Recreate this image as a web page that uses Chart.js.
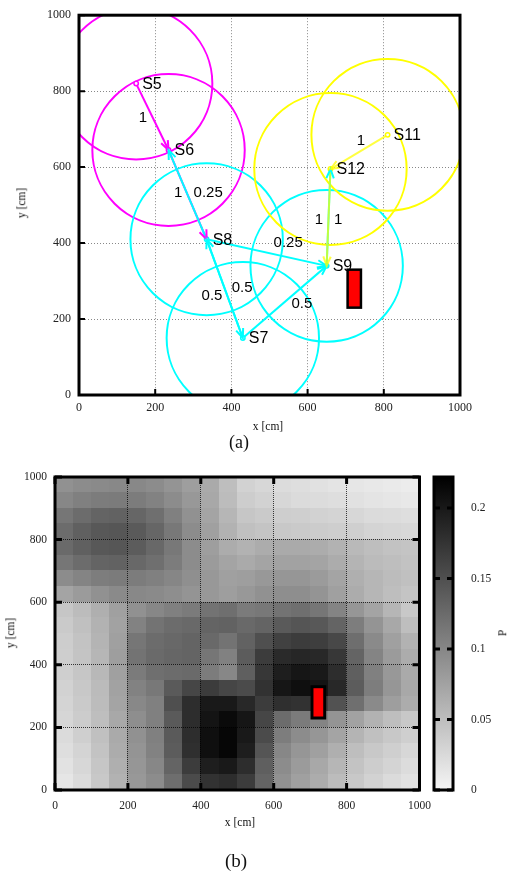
<!DOCTYPE html>
<html><head><meta charset="utf-8">
<script src="https://cdn.jsdelivr.net/npm/chart.js@4.4.1/dist/chart.umd.min.js"></script>
<style>
html,body{margin:0;padding:0;background:#fff}
#wrap{position:relative;width:508px;height:874px;overflow:hidden;background:#fff}
canvas{position:absolute}
.lbl{position:absolute;font-family:"Liberation Serif","Times New Roman",serif;color:#111;white-space:nowrap;transform:translate(-50%,-50%);line-height:1}
.rot{transform:translate(-50%,-50%) rotate(-90deg)}
</style></head><body><div id="wrap">
<canvas id="chartA" width="508" height="430" style="left:0;top:0"></canvas>
<canvas id="chartB" width="440" height="380" style="left:0;top:460px"></canvas>
<canvas id="chartC" width="83" height="380" style="left:425px;top:460px"></canvas>
<div class="lbl" style="left:268px;top:427px;font-size:11.5px">x [cm]</div>
<div class="lbl rot" style="left:22px;top:203px;font-size:11.5px">y [cm]</div>
<div class="lbl" style="left:239px;top:442px;font-size:18px">(a)</div>
<div class="lbl" style="left:240px;top:823px;font-size:11.5px">x [cm]</div>
<div class="lbl rot" style="left:11px;top:633px;font-size:11.5px">y [cm]</div>
<div class="lbl rot" style="left:503px;top:633px;font-size:11.5px">P</div>
<div class="lbl" style="left:236px;top:860px;font-size:19px">(b)</div>
</div>
<script>
// ---------------- data ----------------
const axisTicks = [0, 200, 400, 600, 800, 1000];
const sensorNames = ['S5', 'S6', 'S7', 'S8', 'S9', 'S11', 'S12'];
const sensorX = [150, 235, 430, 335, 650, 810, 660];
const sensorY = [820, 645, 150, 410, 340, 685, 595];
const sensorCluster = [0, 0, 1, 1, 1, 2, 2];
const sensingRange = 200;
const linkFrom = ['S5', 'S6', 'S8', 'S8', 'S7', 'S8', 'S7', 'S9', 'S12', 'S11'];
const linkTo   = ['S6', 'S8', 'S6', 'S7', 'S8', 'S9', 'S9', 'S12', 'S9', 'S12'];
const linkLabelText = ['1', '1', '0.25', '0.5', '0.5', '0.25', '0.5', '1', '1', '1'];
const linkLabelX = [168, 260, 339, 349, 428, 549, 585, 630, 680, 740];
const linkLabelY = [730, 532, 532, 260, 281, 400, 239, 462, 462, 670];
const obstacleX = [705, 740];
const obstacleY = [230, 330];
const gridX = [25, 75, 125, 175, 225, 275, 325, 375, 425, 475, 525, 575, 625, 675, 725, 775, 825, 875, 925, 975];
const gridY = [975, 925, 875, 825, 775, 725, 675, 625, 575, 525, 475, 425, 375, 325, 275, 225, 175, 125, 75, 25];
const pRows = [
  [0.091,0.095,0.097,0.099,0.099,0.095,0.088,0.079,0.068,0.050,0.032,0.027,0.023,0.021,0.018,0.015,0.014,0.012,0.010,0.008],
  [0.100,0.106,0.110,0.111,0.110,0.104,0.095,0.084,0.070,0.052,0.036,0.032,0.027,0.024,0.023,0.021,0.018,0.015,0.014,0.012],
  [0.115,0.124,0.131,0.133,0.130,0.121,0.106,0.091,0.073,0.057,0.043,0.039,0.035,0.034,0.032,0.030,0.027,0.024,0.023,0.021],
  [0.124,0.135,0.142,0.144,0.140,0.130,0.113,0.095,0.077,0.061,0.048,0.044,0.041,0.039,0.037,0.035,0.034,0.030,0.028,0.026],
  [0.126,0.135,0.142,0.144,0.139,0.128,0.113,0.095,0.079,0.066,0.061,0.066,0.068,0.068,0.066,0.061,0.054,0.050,0.046,0.044],
  [0.115,0.124,0.131,0.133,0.128,0.121,0.110,0.095,0.082,0.073,0.068,0.073,0.075,0.075,0.073,0.066,0.059,0.053,0.050,0.046],
  [0.095,0.102,0.109,0.111,0.110,0.106,0.101,0.092,0.084,0.077,0.079,0.084,0.086,0.086,0.082,0.073,0.063,0.057,0.052,0.048],
  [0.073,0.082,0.091,0.097,0.099,0.097,0.093,0.088,0.084,0.079,0.084,0.091,0.093,0.093,0.088,0.077,0.066,0.057,0.050,0.044],
  [0.043,0.052,0.063,0.077,0.091,0.100,0.106,0.111,0.118,0.121,0.111,0.113,0.118,0.121,0.115,0.102,0.086,0.073,0.057,0.041],
  [0.039,0.048,0.061,0.075,0.104,0.118,0.124,0.127,0.131,0.133,0.127,0.131,0.140,0.145,0.142,0.131,0.109,0.088,0.070,0.050],
  [0.036,0.045,0.059,0.077,0.115,0.124,0.128,0.131,0.127,0.118,0.133,0.150,0.163,0.168,0.166,0.157,0.122,0.097,0.077,0.061],
  [0.035,0.044,0.057,0.079,0.118,0.126,0.130,0.131,0.115,0.105,0.139,0.168,0.184,0.188,0.186,0.172,0.131,0.102,0.082,0.066],
  [0.034,0.043,0.055,0.077,0.111,0.121,0.124,0.126,0.110,0.100,0.136,0.172,0.195,0.202,0.199,0.181,0.136,0.106,0.084,0.068],
  [0.032,0.041,0.053,0.075,0.104,0.113,0.140,0.159,0.168,0.159,0.154,0.177,0.202,0.208,0.204,0.186,0.139,0.109,0.086,0.070],
  [0.030,0.039,0.052,0.073,0.099,0.106,0.150,0.181,0.199,0.199,0.186,0.168,0.179,0.177,0.166,0.148,0.121,0.097,0.079,0.066],
  [0.028,0.037,0.050,0.070,0.093,0.106,0.140,0.181,0.204,0.213,0.202,0.159,0.124,0.111,0.102,0.088,0.075,0.061,0.050,0.041],
  [0.024,0.034,0.048,0.068,0.091,0.106,0.140,0.181,0.208,0.217,0.199,0.154,0.109,0.095,0.086,0.073,0.059,0.048,0.041,0.034],
  [0.021,0.030,0.045,0.066,0.088,0.104,0.139,0.179,0.208,0.217,0.195,0.145,0.100,0.086,0.077,0.063,0.050,0.041,0.034,0.027],
  [0.017,0.027,0.043,0.063,0.086,0.100,0.131,0.168,0.195,0.199,0.181,0.136,0.095,0.082,0.070,0.057,0.045,0.036,0.030,0.023],
  [0.014,0.024,0.041,0.061,0.084,0.095,0.122,0.154,0.177,0.181,0.168,0.131,0.091,0.077,0.066,0.052,0.041,0.032,0.024,0.018]
];
const pMax = 0.222;
const pTicks = [0, 0.05, 0.1, 0.15, 0.2];

// ---------------- styles ----------------
const clusterColor = ['#ff00ff', '#00ffff', '#ffff00'];
const clusterLineColor = ['#ff00ff', '#00ffff', 'rgba(255,255,0,0.75)'];
const serif = "'Liberation Serif','Times New Roman',serif";
const sans = "'Liberation Sans',Arial,sans-serif";
const tickColor = '#222';

function grayFor(p) {
  const L = Math.max(0, Math.round(245 * (1 - Math.min(p, pMax) / pMax)));
  return 'rgb(' + L + ',' + L + ',' + L + ')';
}
function setTicks(values) { return s => { s.ticks = values.map(v => ({ value: v })); }; }
function drawFrame(chart, w) {
  const a = chart.chartArea, ctx = chart.ctx;
  ctx.save(); ctx.strokeStyle = '#000'; ctx.lineWidth = w;
  ctx.strokeRect(a.left, a.top, a.width, a.height); ctx.restore();
}
function innerTicks(chart, id, sides, len, w) {
  const s = chart.scales[id], a = chart.chartArea, ctx = chart.ctx;
  ctx.save(); ctx.strokeStyle = '#000'; ctx.lineWidth = w; ctx.beginPath();
  s.ticks.forEach(t => {
    const p = s.getPixelForValue(t.value);
    sides.forEach(side => {
      if (side === 'left') { ctx.moveTo(a.left, p); ctx.lineTo(a.left + len, p); }
      if (side === 'right') { ctx.moveTo(a.right, p); ctx.lineTo(a.right - len, p); }
      if (side === 'bottom') { ctx.moveTo(p, a.bottom); ctx.lineTo(p, a.bottom - len); }
      if (side === 'top') { ctx.moveTo(p, a.top); ctx.lineTo(p, a.top + len); }
    });
  });
  ctx.stroke(); ctx.restore();
}
function drawObstacle(chart, w) {
  const xs = chart.scales.x, ys = chart.scales.y, ctx = chart.ctx;
  const x0 = xs.getPixelForValue(obstacleX[0]), x1 = xs.getPixelForValue(obstacleX[1]);
  const y0 = ys.getPixelForValue(obstacleY[1]), y1 = ys.getPixelForValue(obstacleY[0]);
  ctx.save(); ctx.fillStyle = '#ff0000'; ctx.strokeStyle = '#000'; ctx.lineWidth = w;
  ctx.fillRect(x0, y0, x1 - x0, y1 - y0); ctx.strokeRect(x0, y0, x1 - x0, y1 - y0); ctx.restore();
}
function xyScales(padX, padY, wY, hX, gridColor, dash, fs) {
  const common = {
    type: 'linear', min: 0, max: 1000,
    afterBuildTicks: setTicks(axisTicks),
    grid: { color: gridColor, lineWidth: 1, drawTicks: false },
    border: { display: false, dash: dash }
  };
  return {
    x: Object.assign({}, common, {
      afterFit: s => { s.height = hX; },
      ticks: { padding: padX, color: tickColor, font: { family: serif, size: fs }, maxRotation: 0, autoSkip: false, callback: v => String(v) }
    }),
    y: Object.assign({}, common, {
      afterFit: s => { s.width = wY; },
      ticks: { padding: padY, color: tickColor, font: { family: serif, size: fs }, autoSkip: false, callback: v => String(v) }
    })
  };
}

// ---------------- chart (a) ----------------
const idx = n => sensorNames.indexOf(n);
const linkDatasets = linkFrom.map((f, k) => {
  const a = idx(f), b = idx(linkTo[k]);
  return {
    data: [{ x: sensorX[a], y: sensorY[a] }, { x: sensorX[b], y: sensorY[b] }],
    showLine: true, borderColor: clusterLineColor[sensorCluster[a]], borderWidth: 2,
    pointRadius: 0, order: -k
  };
});
const sensorDataset = {
  data: sensorX.map((x, i) => ({ x: x, y: sensorY[i] })),
  showLine: false, pointRadius: 2.2, pointBorderWidth: 1.5, pointBackgroundColor: '#ffffff',
  pointBorderColor: sensorCluster.map(c => clusterColor[c]), order: -100
};
const netPlugin = {
  id: 'net',
  beforeDatasetsDraw(chart) {
    const xs = chart.scales.x, ys = chart.scales.y, a = chart.chartArea, ctx = chart.ctx;
    ctx.save(); ctx.beginPath(); ctx.rect(a.left, a.top, a.width, a.height); ctx.clip();
    ctx.lineWidth = 2;
    sensorX.forEach((x, i) => {
      const cx = xs.getPixelForValue(x), cy = ys.getPixelForValue(sensorY[i]);
      const rx = Math.abs(xs.getPixelForValue(x + sensingRange) - cx);
      const ry = Math.abs(ys.getPixelForValue(sensorY[i] + sensingRange) - cy);
      ctx.beginPath(); ctx.ellipse(cx, cy, rx, ry, 0, 0, 2 * Math.PI);
      ctx.strokeStyle = clusterColor[sensorCluster[i]]; ctx.stroke();
    });
    ctx.restore();
  },
  afterDatasetsDraw(chart) {
    const xs = chart.scales.x, ys = chart.scales.y, ctx = chart.ctx;
    ctx.save();
    ctx.lineWidth = 2;
    linkFrom.forEach((f, k) => {
      const a = idx(f), b = idx(linkTo[k]);
      const x0 = xs.getPixelForValue(sensorX[a]), y0 = ys.getPixelForValue(sensorY[a]);
      const x1 = xs.getPixelForValue(sensorX[b]), y1 = ys.getPixelForValue(sensorY[b]);
      const ang = Math.atan2(y1 - y0, x1 - x0), L = 10, sp = 0.38;
      ctx.strokeStyle = clusterLineColor[sensorCluster[a]];
      ctx.beginPath();
      ctx.moveTo(x1 - L * Math.cos(ang - sp), y1 - L * Math.sin(ang - sp));
      ctx.lineTo(x1, y1);
      ctx.lineTo(x1 - L * Math.cos(ang + sp), y1 - L * Math.sin(ang + sp));
      ctx.stroke();
    });
    drawObstacle(chart, 2.5);
    ctx.fillStyle = '#000';
    ctx.textBaseline = 'middle';
    ctx.textAlign = 'left';
    ctx.font = '16px ' + sans;
    sensorNames.forEach((n, i) => {
      ctx.fillText(n, xs.getPixelForValue(sensorX[i]) + 6, ys.getPixelForValue(sensorY[i]) + 1);
    });
    ctx.textAlign = 'center';
    ctx.font = '15px ' + sans;
    linkLabelText.forEach((t, i) => {
      ctx.fillText(t, xs.getPixelForValue(linkLabelX[i]), ys.getPixelForValue(linkLabelY[i]));
    });
    ctx.restore();
  },
  afterDraw(chart) {
    innerTicks(chart, 'x', ['bottom'], 6, 2);
    innerTicks(chart, 'y', ['left'], 6, 2);
    drawFrame(chart, 3);
  }
};
new Chart(document.getElementById('chartA'), {
  type: 'scatter',
  data: { datasets: linkDatasets.concat([sensorDataset]) },
  options: {
    responsive: false, animation: false, events: [],
    layout: { padding: { left: 0, top: 10, right: 48, bottom: 0 }, autoPadding: false },
    plugins: { legend: { display: false }, tooltip: { enabled: false } },
    scales: xyScales(6, 8, 79, 35, '#888', [1, 2], 12)
  },
  plugins: [netPlugin]
});

// ---------------- chart (b) heat map ----------------
const heatPlugin = {
  id: 'heat',
  beforeDraw(chart) {
    const xs = chart.scales.x, ys = chart.scales.y, a = chart.chartArea, ctx = chart.ctx;
    const hx = Math.abs(gridX[1] - gridX[0]) / 2, hy = Math.abs(gridY[0] - gridY[1]) / 2;
    ctx.save(); ctx.beginPath(); ctx.rect(a.left, a.top, a.width, a.height); ctx.clip();
    pRows.forEach((row, j) => row.forEach((p, i) => {
      const x0 = Math.floor(xs.getPixelForValue(gridX[i] - hx)), x1 = Math.ceil(xs.getPixelForValue(gridX[i] + hx));
      const y0 = Math.floor(ys.getPixelForValue(gridY[j] + hy)), y1 = Math.ceil(ys.getPixelForValue(gridY[j] - hy));
      ctx.fillStyle = grayFor(p);
      ctx.fillRect(x0, y0, x1 - x0, y1 - y0);
    }));
    ctx.restore();
  },
  afterDatasetsDraw(chart) { drawObstacle(chart, 3); },
  afterDraw(chart) {
    innerTicks(chart, 'x', ['bottom', 'top'], 7, 3);
    innerTicks(chart, 'y', ['left', 'right'], 7, 3);
    drawFrame(chart, 3);
  }
};
new Chart(document.getElementById('chartB'), {
  type: 'scatter',
  data: { datasets: [] },
  options: {
    responsive: false, animation: false, events: [],
    layout: { padding: { left: 0, top: 17, right: 15, bottom: 0 }, autoPadding: false },
    plugins: { legend: { display: false }, tooltip: { enabled: false } },
    scales: xyScales(9, 8, 55, 50, 'rgba(0,0,0,0.75)', [1, 1], 11.5)
  },
  plugins: [heatPlugin]
});

// ---------------- colour bar ----------------
const barPlugin = {
  id: 'cbar',
  beforeDraw(chart) {
    const ys = chart.scales.y, a = chart.chartArea, ctx = chart.ctx;
    const g = ctx.createLinearGradient(0, ys.getPixelForValue(0), 0, ys.getPixelForValue(pMax));
    g.addColorStop(0, grayFor(0)); g.addColorStop(1, grayFor(pMax));
    ctx.save(); ctx.fillStyle = g; ctx.fillRect(a.left, a.top, a.width, a.height); ctx.restore();
  },
  afterDraw(chart) {
    innerTicks(chart, 'y', ['left', 'right'], 6, 3);
    drawFrame(chart, 3);
  }
};
new Chart(document.getElementById('chartC'), {
  type: 'scatter',
  data: { datasets: [] },
  options: {
    responsive: false, animation: false, events: [],
    layout: { padding: { left: 9, top: 17, right: 0, bottom: 50 }, autoPadding: false },
    plugins: { legend: { display: false }, tooltip: { enabled: false } },
    scales: {
      x: { type: 'linear', display: false, min: 0, max: 1 },
      y: {
        type: 'linear', position: 'right', min: 0, max: pMax,
        afterBuildTicks: setTicks(pTicks),
        afterFit: s => { s.width = 55; },
        grid: { display: false }, border: { display: false },
        ticks: { padding: 10, color: tickColor, font: { family: serif, size: 11.5 }, autoSkip: false, callback: v => String(v) }
      }
    }
  },
  plugins: [barPlugin]
});
</script>
</body></html>
